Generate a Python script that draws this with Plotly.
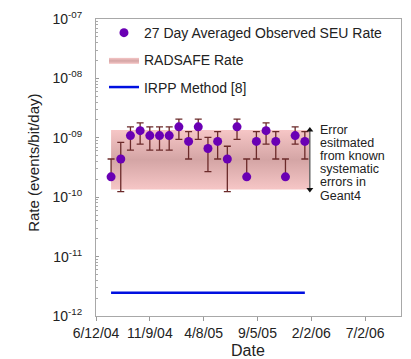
import plotly.graph_objects as go

# ---- data ----
obs_dates = ["2004-07-24", "2004-08-20", "2004-09-16", "2004-10-13", "2004-11-09",
             "2004-12-06", "2005-01-02", "2005-01-29", "2005-02-25", "2005-03-24",
             "2005-04-20", "2005-05-17", "2005-06-13", "2005-07-10", "2005-08-06",
             "2005-09-02", "2005-09-29", "2005-10-26", "2005-11-22", "2005-12-19",
             "2006-01-15"]
obs_rate = [2.2e-10, 4.4e-10, 1.09e-9, 1.32e-9, 1.09e-9, 1.09e-9, 1.09e-9, 1.53e-9,
            8.7e-10, 1.53e-9, 6.6e-10, 8.7e-10, 4.4e-10, 1.53e-9, 2.2e-10, 8.7e-10,
            1.32e-9, 8.7e-10, 2.2e-10, 1.09e-9, 8.7e-10]
obs_upper = [4.4e-10, 8.4e-10, 1.53e-9, 1.79e-9, 1.53e-9, 1.53e-9, 1.53e-9, 2.07e-9,
             1.27e-9, 2.07e-9, 1.02e-9, 1.27e-9, 7.2e-10, 2.07e-9, 4.4e-10, 1.27e-9,
             1.79e-9, 1.27e-9, 4.4e-10, 1.53e-9, 1.27e-9]
obs_lower = [2.2e-10, 1.24e-10, 6.2e-10, 7.8e-10, 6.2e-10, 6.2e-10, 6.2e-10, 9.4e-10,
             4.4e-10, 9.4e-10, 2.7e-10, 4.4e-10, 1.24e-10, 9.4e-10, 2.2e-10, 4.4e-10,
             7.8e-10, 4.4e-10, 2.2e-10, 7.8e-10, 4.4e-10]

radsafe_start = "2004-07-24"
radsafe_end = "2006-01-27"
radsafe_low = 1.35e-10
radsafe_high = 1.35e-9

irpp_dates = ["2004-07-24", "2006-01-15"]
irpp_rate = [2.47e-12, 2.47e-12]

arrow_date = "2006-01-29"

tick_dates = ["2004-06-12", "2004-11-09", "2005-04-08", "2005-09-05", "2006-02-02", "2006-07-02"]
tick_text = ["6/12/04", "11/9/04", "4/8/05", "9/5/05", "2/2/06", "7/2/06"]
y_tickvals = [1e-12, 1e-11, 1e-10, 1e-9, 1e-8, 1e-7]
y_ticktext = ["10<sup>-12</sup>", "10<sup>-11</sup>", "10<sup>-10</sup>",
              "10<sup>-09</sup>", "10<sup>-08</sup>", "10<sup>-07</sup>"]
note_lines = ["Error", "esitmated", "from known", "systematic", "errors in", "Geant4"]

FONT = "Liberation Sans, Arial, sans-serif"
W, H = 411, 359
ML, MR, MT, MB = 96, 9, 10, 43
PW, PH = W - ML - MR, H - MT - MB


def px_x(x):
    return (x - ML) / PW


def px_y(y):
    return 1 - (y - MT) / PH


fig = go.Figure()

# RADSAFE band
fig.add_trace(go.Scatter(
    x=[radsafe_start, radsafe_end, radsafe_end, radsafe_start, radsafe_start],
    y=[radsafe_low, radsafe_low, radsafe_high, radsafe_high, radsafe_low],
    mode="lines", fill="toself", line=dict(width=0),
    fillgradient=dict(type="vertical",
                      colorscale=[[0, "rgb(246,198,198)"], [0.5, "rgb(212,165,165)"],
                                  [1, "rgb(246,198,198)"]]),
    name="RADSAFE Rate", legendrank=2, legendgroup="b", hoverinfo="skip"))

# IRPP line
fig.add_trace(go.Scatter(
    x=irpp_dates, y=irpp_rate, mode="lines",
    line=dict(color="#0010e0", width=2.5),
    name="IRPP Method [8]", legendrank=3, legendgroup="c"))

# observed
err_plus = [u - r for u, r in zip(obs_upper, obs_rate)]
err_minus = [r - l for r, l in zip(obs_rate, obs_lower)]
fig.add_trace(go.Scatter(
    x=obs_dates, y=obs_rate, mode="markers",
    marker=dict(color="#6a00b4", size=9),
    error_y=dict(type="data", symmetric=False, array=err_plus, arrayminus=err_minus,
                 color="#6b2a2a", thickness=1.3, width=3.5),
    name="27 Day Averaged Observed SEU Rate", legendrank=1, legendgroup="a"))

# double-headed arrow
fig.add_trace(go.Scatter(
    x=[arrow_date, arrow_date], y=[radsafe_high, radsafe_low],
    mode="lines+markers", line=dict(color="#222", width=1),
    marker=dict(symbol=["triangle-up", "triangle-down"], size=6, color="#111"),
    showlegend=False, hoverinfo="skip"))

# annotation text
for i, t in enumerate(note_lines):
    fig.add_annotation(text=t, xref="paper", yref="paper",
                       x=px_x(319), y=px_y(124 + i * 13.6),
                       xanchor="left", yanchor="middle", showarrow=False,
                       font=dict(family=FONT, size=12.5, color="#222"))

# axis titles
fig.add_annotation(text="Rate (events/bit/day)", xref="paper", yref="paper",
                   x=px_x(33), y=px_y(158), textangle=-90, showarrow=False,
                   xanchor="center", yanchor="middle",
                   font=dict(family=FONT, size=15, color="#222"))
fig.add_annotation(text="Date", xref="paper", yref="paper",
                   x=px_x(248), y=px_y(352), showarrow=False,
                   xanchor="center", yanchor="middle",
                   font=dict(family=FONT, size=16, color="#222"))

fig.update_xaxes(
    type="date", range=["2004-06-12", "2006-10-10"],
    tickmode="array", tickvals=tick_dates, ticktext=tick_text,
    ticks="outside", ticklen=4, tickcolor="#999",
    showline=True, mirror=True, linecolor="#a8a8a8", linewidth=1,
    showgrid=False, zeroline=False,
    tickfont=dict(family=FONT, size=14, color="#222"))
fig.update_yaxes(
    type="log", range=[-12, -7],
    tickmode="array", tickvals=y_tickvals, ticktext=y_ticktext,
    ticks="inside", ticklen=3, tickcolor="#999",
    minor=dict(ticks="inside", ticklen=2, tickcolor="#aaa", dtick="D1", showgrid=False),
    showline=True, mirror=True, linecolor="#a8a8a8", linewidth=1,
    showgrid=False, zeroline=False, ticklabelstandoff=10,
    tickfont=dict(family=FONT, size=14, color="#222"))

fig.update_layout(
    width=W, height=H,
    margin=dict(l=ML, r=MR, t=MT, b=MB),
    paper_bgcolor="white", plot_bgcolor="white",
    showlegend=True,
    legend=dict(x=px_x(104), y=px_y(8), xanchor="left", yanchor="top",
                bgcolor="rgba(0,0,0,0)", tracegroupgap=6, itemwidth=30,
                font=dict(family=FONT, size=14, color="#222")),
    font=dict(family=FONT))

fig.write_html("out.html")
